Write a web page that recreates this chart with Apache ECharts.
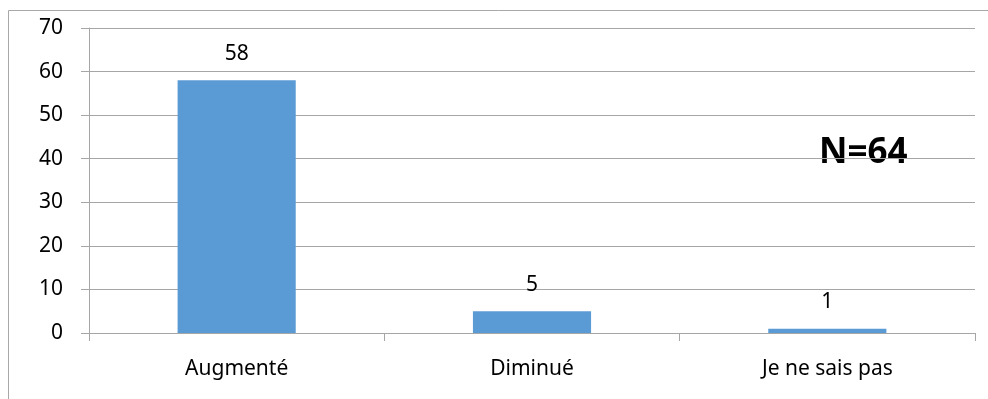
<!DOCTYPE html>
<html>
<head>
<meta charset="utf-8">
<script src="https://cdn.jsdelivr.net/npm/echarts@6/dist/echarts.min.js"></script>
<style>
  html, body { margin: 0; padding: 0; background: #fff; }
  #chart { width: 988px; height: 399px; }
</style>
</head>
<body>
<div id="chart"></div>
<script>
var categories = ["Augmenté", "Diminué", "Je ne sais pas"];
var values = [58, 5, 1];
var totalLabel = "N=64";

var chart = echarts.init(document.getElementById("chart"));
var gridColor = "#a6a6a6";
var font = "'Noto Sans', 'Open Sans', sans-serif";

chart.setOption({
  animation: false,
  grid: { left: 89, right: 13, top: 28, bottom: 66 },
  graphic: [
    {
      // cadre du graphique
      type: "rect",
      shape: { x: 8.5, y: 10.5, width: 990, height: 400 },
      style: { fill: "none", stroke: "#a8a8a8", lineWidth: 1 },
      silent: true
    },
    {
      type: "text",
      left: 819,
      top: 136,
      style: {
        text: totalLabel,
        fontSize: 35,
        fontWeight: "bold",
        fontFamily: font,
        fill: "#000"
      }
    }
  ],
  xAxis: {
    type: "category",
    data: categories,
    axisLine: { show: true, lineStyle: { color: gridColor } },
    axisTick: { show: true, length: 8, lineStyle: { color: gridColor } },
    axisLabel: { color: "#000", fontSize: 21, fontFamily: font, margin: 26 }
  },
  yAxis: {
    type: "value",
    min: 0,
    max: 70,
    interval: 10,
    axisLine: { show: true, lineStyle: { color: gridColor } },
    axisTick: { show: true, length: 8, lineStyle: { color: gridColor } },
    axisLabel: { color: "#000", fontSize: 21, fontFamily: font, margin: 26 },
    splitLine: { show: true, lineStyle: { color: gridColor, width: 1 } }
  },
  series: [
    {
      type: "bar",
      data: values,
      barWidth: "40%",
      itemStyle: { color: "#5b9bd5" },
      label: {
        show: true,
        position: "top",
        distance: 16,
        color: "#000",
        fontSize: 21,
        fontFamily: font
      }
    }
  ]
});
</script>
</body>
</html>
